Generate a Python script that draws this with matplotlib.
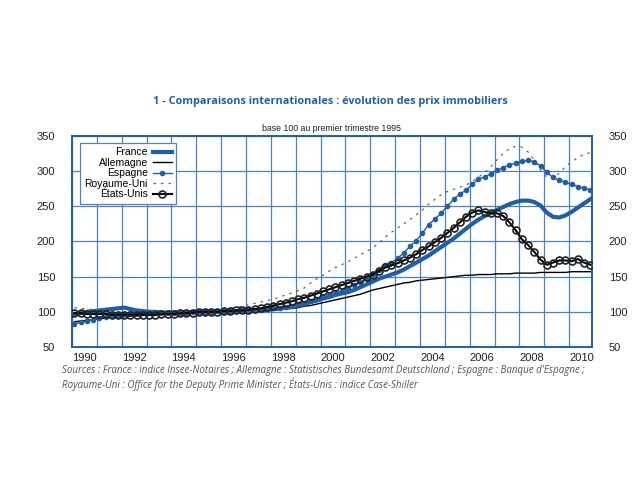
import matplotlib
matplotlib.use("Agg")
import matplotlib.pyplot as plt
import numpy as np

years = list(range(1990, 2011))
xtick_labels = [str(y) for y in range(1990, 2011, 2)]
yticks = [50, 100, 150, 200, 250, 300, 350]

# Quarterly values 1990Q1 .. 2010Q4 (base 100 = 1995Q1)
france = [97, 98, 100, 101, 102, 103, 104, 105, 106, 104, 102, 101,
          100, 100, 99, 99, 99, 99, 99, 100, 100, 100, 100, 100,
          100, 100, 100, 101, 101, 101, 102, 103, 104, 105, 106, 107,
          109, 111, 114, 116, 119, 121, 124, 126, 128, 131, 135, 139,
          143, 147, 150, 153, 156, 160, 165, 170, 175, 180, 186, 192,
          198, 204, 211, 218, 225, 231, 236, 240, 245, 249, 253, 256,
          258, 258, 256, 251, 241, 235, 234, 237, 242, 248, 254, 260]
allemagne = [86, 87, 88, 89, 90, 91, 92, 92, 93, 94, 94, 95,
             96, 96, 97, 97, 98, 98, 99, 99, 100, 100, 100, 100,
             100, 100, 100, 100, 101, 101, 101, 102, 102, 103, 104, 105,
             106, 108, 109, 111, 113, 115, 117, 119, 121, 123, 125, 128,
             131, 133, 135, 137, 139, 141, 142, 144, 145, 146, 147, 148,
             149, 150, 151, 152, 152, 153, 153, 153, 154, 154, 154, 155,
             155, 155, 155, 156, 156, 156, 156, 156, 157, 157, 157, 157]
espagne = [83, 85, 87, 89, 91, 93, 95, 96, 97, 98, 98, 98,
           98, 98, 98, 98, 99, 99, 99, 100, 100, 100, 100, 101,
           101, 101, 101, 102, 102, 102, 103, 104, 105, 106, 107, 109,
           111, 113, 116, 118, 121, 124, 127, 130, 134, 138, 142, 147,
           154, 160, 166, 170, 176, 184, 193, 201, 212, 224, 232, 240,
           250, 260, 267, 273, 281, 288, 292, 296, 301, 305, 309, 311,
           314, 315, 313, 307, 298, 291, 287, 284, 281, 278, 276, 273]
royaume_uni = [106, 105, 104, 103, 102, 101, 100, 99, 99, 98, 98, 97,
               97, 97, 97, 98, 98, 99, 99, 100, 100, 100, 101, 102,
               103, 105, 106, 108, 110, 112, 114, 116, 118, 121, 124, 127,
               130, 134, 141, 147, 152, 158, 163, 167, 171, 176, 181, 186,
               191, 198, 206, 213, 219, 225, 231, 238, 245, 253, 260, 266,
               271, 274, 277, 280, 285, 291, 298, 306, 316, 325, 332, 335,
               334, 327, 315, 301, 291, 290, 297, 306, 313, 319, 324, 326]
etats_unis = [98, 98, 97, 97, 97, 97, 96, 96, 96, 96, 96, 96,
              96, 96, 97, 97, 97, 98, 98, 99, 100, 100, 100, 100,
              101, 101, 102, 102, 103, 104, 105, 107, 109, 111, 113, 115,
              118, 120, 123, 126, 129, 132, 135, 138, 141, 144, 147, 150,
              153, 158, 163, 166, 169, 173, 177, 182, 188, 193, 199, 205,
              212, 219, 227, 235, 241, 244, 242, 240, 240, 236, 227, 216,
              203, 195, 185, 174, 167, 170, 173, 173, 172, 175, 170, 167]

x = 1990.1 + 0.25 * np.arange(len(france))

BLUE = "#1f5fa8"
GRID = "#4a82c2"

plt.rcParams['font.family'] = ['Liberation Sans', 'DejaVu Sans']

fig = plt.figure(figsize=(6.4, 4.8), dpi=100)
ax = fig.add_axes([0.1125, 0.277, 0.8125, 0.44])

ax.plot(x, royaume_uni, color="#666666", lw=0.9, ls=(0, (2, 4)), label="Royaume-Uni", zorder=2)
ax.plot(x, allemagne, color="black", lw=1.0, label="Allemagne", zorder=3)
ax.plot(x, france, color=BLUE, lw=3.0, label="France", zorder=4)
ax.plot(x, espagne, color=BLUE, lw=1.0, marker="o", ms=3.0, mec=BLUE, mfc=BLUE,
        label="Espagne", zorder=5)
ax.plot(x, etats_unis, color="black", lw=1.5, marker="o", ms=5.0, mfc="none",
        mec="#222222", mew=1.2, label="États-Unis", zorder=6)

ax.set_xlim(1990, 2010.92)
ax.set_ylim(50, 350)
ax.set_xticks(years)
ax.set_xticklabels([])
ax.set_xticks([y + 0.5 for y in range(1990, 2011, 2)], minor=True)
ax.set_xticklabels(xtick_labels, minor=True)
ax.set_yticks(yticks)
ax.tick_params(axis="both", which="both", length=0, labelsize=8, colors="#222222")
ax.tick_params(axis="x", which="minor", pad=4)
ax.tick_params(axis="y", pad=12, labelright=True, right=False)
ax.grid(True, which="major", color=GRID, lw=0.9)
for s in ax.spines.values():
    s.set_color(BLUE)
    s.set_linewidth(1.4)

handles, labels = ax.get_legend_handles_labels()
order = ["France", "Allemagne", "Espagne", "Royaume-Uni", "États-Unis"]
hmap = dict(zip(labels, handles))
leg = ax.legend([hmap[k] for k in order], order, loc="upper left",
                bbox_to_anchor=(0.006, 0.99), markerfirst=False, fancybox=False,
                fontsize=7.5, handlelength=1.8, handletextpad=0.5, labelspacing=0.05,
                borderpad=0.4, framealpha=1)
leg.get_frame().set_edgecolor(GRID)
leg.get_frame().set_linewidth(0.9)

fig.text(0.516, 0.789, "1 - Comparaisons internationales : évolution des prix immobiliers",
         ha="center", va="center", fontsize=7.8, fontweight="bold", color=BLUE,
         family=["Open Sans", "DejaVu Sans"])
fig.text(0.518, 0.733, "base 100 au premier trimestre 1995", ha="center", va="center",
         fontsize=6.3, color="#222222")
fig.text(0.097, 0.229,
         "Sources : France : indice Insee-Notaires ; Allemagne : Statistisches Bundesamt Deutschland ; Espagne : Banque d'Espagne ;",
         ha="left", va="center", fontsize=7, style="italic", color="#555555",
         family=["Open Sans", "DejaVu Sans"])
fig.text(0.097, 0.200,
         "Royaume-Uni : Office for the Deputy Prime Minister ; États-Unis : indice Case-Shiller",
         ha="left", va="center", fontsize=7, style="italic", color="#555555",
         family=["Open Sans", "DejaVu Sans"])

fig.savefig("out.png", dpi=100)
